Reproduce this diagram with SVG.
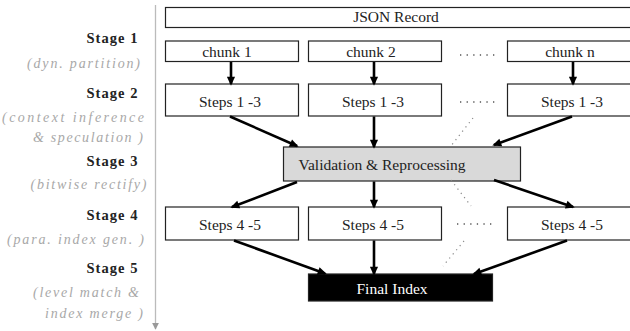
<svg xmlns="http://www.w3.org/2000/svg" width="630" height="331" viewBox="0 0 630 331" font-family="'Liberation Serif', 'Times New Roman', serif">
  <defs>
    <marker id="arr" viewBox="0 0 10 10" refX="8" refY="5" markerWidth="10" markerHeight="9" orient="auto" markerUnits="userSpaceOnUse">
      <path d="M0,0.5 L10,5 L0,9.5 Z" fill="#000"/>
    </marker>
    <marker id="axarr" viewBox="0 0 10 10" refX="9" refY="5" markerWidth="7" markerHeight="7" orient="auto" markerUnits="userSpaceOnUse">
      <path d="M0,0 L10,5 L0,10 Z" fill="#999"/>
    </marker>
    <style>
      .box { fill: #fff; stroke: #222; stroke-width: 1.2; }
      .gray { fill: #d9d9d9; stroke: #222; stroke-width: 1.2; }
      .dark { fill: #000; stroke: #222; stroke-width: 1.2; }
      text { font-family: 'Liberation Serif', 'Times New Roman', serif; }
      .lbl { font-size: 15.5px; fill: #222; text-anchor: middle; }
      .wlbl { font-size: 15.5px; fill: #fff; text-anchor: middle; }
      .stage { font-size: 14.5px; font-weight: bold; fill: #222; text-anchor: end; }
      .note { font-size: 14px; font-style: italic; fill: #a8a8a8; text-anchor: end; }
      .edge { stroke: #000; stroke-width: 2.6; fill: none; marker-end: url(#arr); }
      .dots { stroke: #555; stroke-width: 1.3; stroke-dasharray: 1.3 5.3; fill: none; }
      .ddots { stroke: #888; stroke-width: 1.2; stroke-dasharray: 1.2 4.2; fill: none; }
    </style>
  </defs>

  <!-- stage axis with the stage names and their descriptions -->
  <g id="axis">
    <line x1="155.5" y1="5" x2="155.5" y2="329" stroke="#bbb" stroke-width="1.3" marker-end="url(#axarr)"/>
    <text class="stage" x="137.5" y="43" textLength="51" lengthAdjust="spacing">Stage 1</text>
    <text class="note" x="140" y="68" textLength="113" lengthAdjust="spacing">(dyn. partition)</text>
    <text class="stage" x="137.5" y="97.5" textLength="51" lengthAdjust="spacing">Stage 2</text>
    <text class="note" x="144" y="122" textLength="142" lengthAdjust="spacing">(context inference</text>
    <text class="note" x="143" y="142" textLength="110" lengthAdjust="spacing">&amp; speculation )</text>
    <text class="stage" x="137.5" y="166" textLength="51" lengthAdjust="spacing">Stage 3</text>
    <text class="note" x="146.5" y="189" textLength="116" lengthAdjust="spacing">(bitwise rectify)</text>
    <text class="stage" x="137.5" y="220" textLength="51" lengthAdjust="spacing">Stage 4</text>
    <text class="note" x="144" y="244" textLength="137" lengthAdjust="spacing">(para. index gen. )</text>
    <text class="stage" x="137.5" y="273" textLength="51" lengthAdjust="spacing">Stage 5</text>
    <text class="note" x="139" y="297" textLength="106" lengthAdjust="spacing">(level match &amp;</text>
    <text class="note" x="143" y="318" textLength="98" lengthAdjust="spacing">index merge )</text>
  </g>

  <g id="json-record">
    <rect class="box" x="165.5" y="7.5" width="466" height="20"/>
    <text class="lbl" x="396" y="22">JSON Record</text>
  </g>

  <g id="chunk-1">
    <rect class="box" x="165.5" y="41" width="133" height="20.5"/>
    <text class="lbl" x="227" y="57">chunk 1</text>
  </g>
  <g id="chunk-2">
    <rect class="box" x="308.5" y="41" width="133" height="20.5"/>
    <text class="lbl" x="371" y="57">chunk 2</text>
  </g>
  <g id="chunk-n">
    <rect class="box" x="507.5" y="41" width="133" height="20.5"/>
    <text class="lbl" x="570" y="57">chunk n</text>
  </g>

  <g id="steps13-1">
    <rect class="box" x="165.5" y="84" width="133" height="32"/>
    <text class="lbl" x="230" y="107">Steps 1 -3</text>
  </g>
  <g id="steps13-2">
    <rect class="box" x="308.5" y="84" width="133" height="32"/>
    <text class="lbl" x="373" y="107">Steps 1 -3</text>
  </g>
  <g id="steps13-n">
    <rect class="box" x="507.5" y="84" width="133" height="32"/>
    <text class="lbl" x="572" y="107">Steps 1 -3</text>
  </g>

  <g id="validation">
    <rect class="gray" x="283.5" y="147" width="237" height="34"/>
    <text class="lbl" x="382" y="170">Validation &amp; Reprocessing</text>
  </g>

  <g id="steps45-1">
    <rect class="box" x="165.5" y="207" width="133" height="33"/>
    <text class="lbl" x="230" y="229.5">Steps 4 -5</text>
  </g>
  <g id="steps45-2">
    <rect class="box" x="308.5" y="207" width="133" height="33"/>
    <text class="lbl" x="373" y="229.5">Steps 4 -5</text>
  </g>
  <g id="steps45-n">
    <rect class="box" x="507.5" y="207" width="133" height="33"/>
    <text class="lbl" x="572" y="229.5">Steps 4 -5</text>
  </g>

  <g id="final-index">
    <rect class="dark" x="308.5" y="274" width="184" height="27"/>
    <text class="wlbl" x="392" y="294">Final Index</text>
  </g>

  <!-- connectors -->
  <g id="connectors">
    <line class="edge" x1="231" y1="62" x2="231" y2="84"/>
    <line class="edge" x1="374" y1="62" x2="374" y2="84"/>
    <line class="edge" x1="573" y1="62" x2="573" y2="84"/>

    <line class="edge" x1="230" y1="116.5" x2="297" y2="146"/>
    <line class="edge" x1="374" y1="116.5" x2="374" y2="147"/>
    <line class="edge" x1="572" y1="116.5" x2="494" y2="145"/>

    <line class="edge" x1="297" y1="182" x2="232" y2="207"/>
    <line class="edge" x1="374" y1="181.5" x2="374" y2="207"/>
    <line class="edge" x1="494" y1="180" x2="573" y2="207"/>

    <line class="edge" x1="234" y1="240.5" x2="325" y2="273.5"/>
    <line class="edge" x1="374" y1="240.5" x2="374" y2="274"/>
    <line class="edge" x1="567" y1="240.5" x2="474" y2="274"/>

    <!-- elided columns -->
    <line class="dots" x1="460" y1="55" x2="495" y2="55"/>
    <line class="dots" x1="460" y1="102" x2="495" y2="102"/>
    <line class="dots" x1="457" y1="224" x2="492" y2="224"/>
    <line class="ddots" x1="473" y1="118" x2="451" y2="146"/>
    <line class="ddots" x1="451" y1="180" x2="471" y2="206"/>
    <line class="ddots" x1="464" y1="241" x2="443" y2="266"/>
  </g>
</svg>
